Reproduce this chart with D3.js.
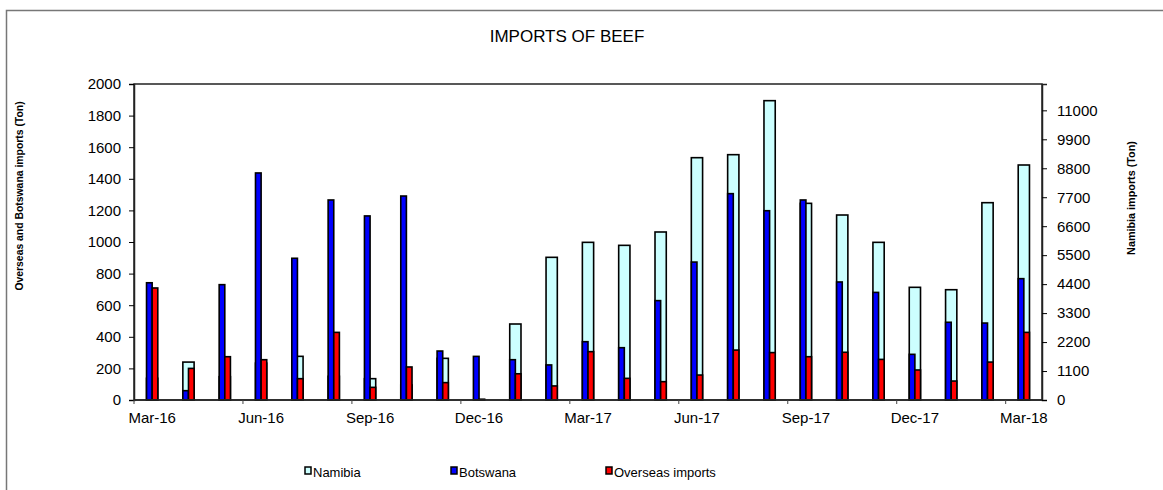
<!DOCTYPE html>
<html>
<head>
<meta charset="utf-8">
<script src="https://cdn.jsdelivr.net/npm/d3@7"></script>
<style>
  body { margin: 0; background: #fff; }
  text { font-family: Arial, "Liberation Sans", sans-serif; fill: #000; }
</style>
</head>
<body>
<svg id="chart"></svg>
<script>
var months = ["Mar-16","Apr-16","May-16","Jun-16","Jul-16","Aug-16","Sep-16","Oct-16","Nov-16","Dec-16",
  "Jan-17","Feb-17","Mar-17","Apr-17","May-17","Jun-17","Jul-17","Aug-17","Sep-17","Oct-17","Nov-17","Dec-17",
  "Jan-18","Feb-18","Mar-18"];

// Namibia on the right axis (ton)
var namibia = [825, 1440, 885, 1400, 1658, 900, 810, 570, 1582, 0,
  2886, 5418, 5987, 5873, 6380, 9202, 9316, 11367, 7468, 7025, 5987, 4279,
  4188, 7493, 8924];
// Botswana and overseas on the left axis (ton)
var botswana = [742, 59, 730, 1437, 897, 1266, 1165, 1291, 310, 276,
  255, 222, 369, 331, 629, 873, 1306, 1198, 1266, 747, 681, 289,
  492, 487, 768];
var overseas = [709, 200, 274, 255, 135, 428, 80, 209, 110, 5,
  166, 89, 306, 137, 116, 158, 316, 300, 274, 302, 257, 190,
  120, 240, 428];

var leftTicks = d3.range(0, 2001, 200),
    rightTicks = d3.range(0, 11001, 1100);

var width = 1163, height = 490;
var plotLeft = 134, plotRight = 1042, plotTop = 84, plotBottom = 400;

var svg = d3.select("#chart")
    .attr("width", width)
    .attr("height", height);

// outer frame of the chart object
svg.append("rect")
    .attr("x", 6.5).attr("y", 10.5)
    .attr("width", width + 10).attr("height", height + 10)
    .attr("fill", "none")
    .attr("stroke", "#777")
    .attr("stroke-width", 1.5);

var x = d3.scaleBand().domain(months).range([plotLeft, plotRight]),
    clusterW = x.bandwidth() * 0.31,
    x1 = d3.scaleBand().domain(["b", "o"]).range([-clusterW / 2, clusterW / 2]),
    y = d3.scaleLinear().domain([0, 2000]).range([plotBottom, plotTop]),
    y2 = d3.scaleLinear().domain([0, 12000]).range([plotBottom, plotTop]);

var g = svg.append("g");

// Namibia behind
g.selectAll(".nam")
    .data(namibia)
  .enter().append("rect")
    .attr("class", "nam")
    .attr("x", function(d, i) { return x(months[i]) + x.bandwidth() / 2 - clusterW / 2; })
    .attr("width", clusterW)
    .attr("y", function(d) { return y2(d); })
    .attr("height", function(d) { return plotBottom - y2(d); })
    .attr("fill", "#CCFFFF")
    .attr("stroke", "#000")
    .attr("stroke-width", 1.6);

g.selectAll(".bots")
    .data(botswana)
  .enter().append("rect")
    .attr("class", "bots")
    .attr("x", function(d, i) { return x(months[i]) + x.bandwidth() / 2 + x1("b"); })
    .attr("width", x1.bandwidth())
    .attr("y", function(d) { return y(d); })
    .attr("height", function(d) { return plotBottom - y(d); })
    .attr("fill", "#0000FF")
    .attr("stroke", "#000")
    .attr("stroke-width", 1.6);

g.selectAll(".over")
    .data(overseas)
  .enter().append("rect")
    .attr("class", "over")
    .attr("x", function(d, i) { return x(months[i]) + x.bandwidth() / 2 + x1("o"); })
    .attr("width", x1.bandwidth())
    .attr("y", function(d) { return y(d); })
    .attr("height", function(d) { return plotBottom - y(d); })
    .attr("fill", "#FF0000")
    .attr("stroke", "#000")
    .attr("stroke-width", 1.6);

// plot frame
svg.append("rect")
    .attr("x", plotLeft).attr("y", plotTop)
    .attr("width", plotRight - plotLeft).attr("height", plotBottom - plotTop)
    .attr("fill", "none")
    .attr("stroke", "#222")
    .attr("stroke-width", 1.5);

// left axis
var yAxis = svg.append("g")
    .attr("transform", "translate(" + plotLeft + ",0)")
    .call(d3.axisLeft(y).tickValues(leftTicks).tickSize(5).tickPadding(8).tickFormat(d3.format("d")));
yAxis.select(".domain").attr("stroke", "#222").attr("stroke-width", 1.5);
yAxis.selectAll("text").style("font-size", "15px");

// right axis
var y2Axis = svg.append("g")
    .attr("transform", "translate(" + plotRight + ",0)")
    .call(d3.axisRight(y2).tickValues(rightTicks).tickSize(5).tickPadding(10).tickFormat(d3.format("d")));
y2Axis.select(".domain").attr("stroke", "#222").attr("stroke-width", 1.5);
y2Axis.selectAll("text").style("font-size", "15px");

// bottom axis: ticks every third month, labels centred on the month
var xAxis = svg.append("g")
    .attr("transform", "translate(0," + plotBottom + ")");
xAxis.append("line")
    .attr("x1", plotLeft).attr("x2", plotRight)
    .attr("stroke", "#222").attr("stroke-width", 1.5);
xAxis.selectAll(".xt")
    .data(months.filter(function(d, i) { return i % 3 == 0; }))
  .enter().append("line")
    .attr("class", "xt")
    .attr("x1", function(d) { return x(d); })
    .attr("x2", function(d) { return x(d); })
    .attr("y2", 4)
    .attr("stroke", "#444");
xAxis.selectAll(".xl")
    .data(months.filter(function(d, i) { return i % 3 == 0; }))
  .enter().append("text")
    .attr("class", "xl")
    .attr("x", function(d) { return x(d) + x.bandwidth() / 2; })
    .attr("y", 23)
    .attr("text-anchor", "middle")
    .style("font-size", "15px")
    .text(function(d) { return d; });

// titles
svg.append("text")
    .attr("x", 567).attr("y", 42)
    .attr("text-anchor", "middle")
    .style("font-size", "17px")
    .text("IMPORTS OF BEEF");

svg.append("text")
    .attr("transform", "translate(23,196)rotate(-90)")
    .attr("text-anchor", "middle")
    .style("font-size", "10.4px")
    .style("font-weight", "bold")
    .text("Overseas and Botswana imports  (Ton)");

svg.append("text")
    .attr("transform", "translate(1135,198)rotate(-90)")
    .attr("text-anchor", "middle")
    .style("font-size", "10.8px")
    .style("font-weight", "bold")
    .text("Namibia  imports (Ton)");

// legend
var legend = [
  {name: "Namibia", color: "#CCFFFF", x: 305},
  {name: "Botswana", color: "#0000FF", x: 451},
  {name: "Overseas imports", color: "#FF0000", x: 606}
];
var lg = svg.selectAll(".lg")
    .data(legend)
  .enter().append("g")
    .attr("class", "lg")
    .attr("transform", function(d) { return "translate(" + d.x + ",467)"; });
lg.append("rect")
    .attr("width", 6).attr("height", 7)
    .attr("fill", function(d) { return d.color; })
    .attr("stroke", "#000")
    .attr("stroke-width", 1.5);
lg.append("text")
    .attr("x", 8).attr("y", 9.5)
    .style("font-size", "13px")
    .text(function(d) { return d.name; });
</script>
</body>
</html>
